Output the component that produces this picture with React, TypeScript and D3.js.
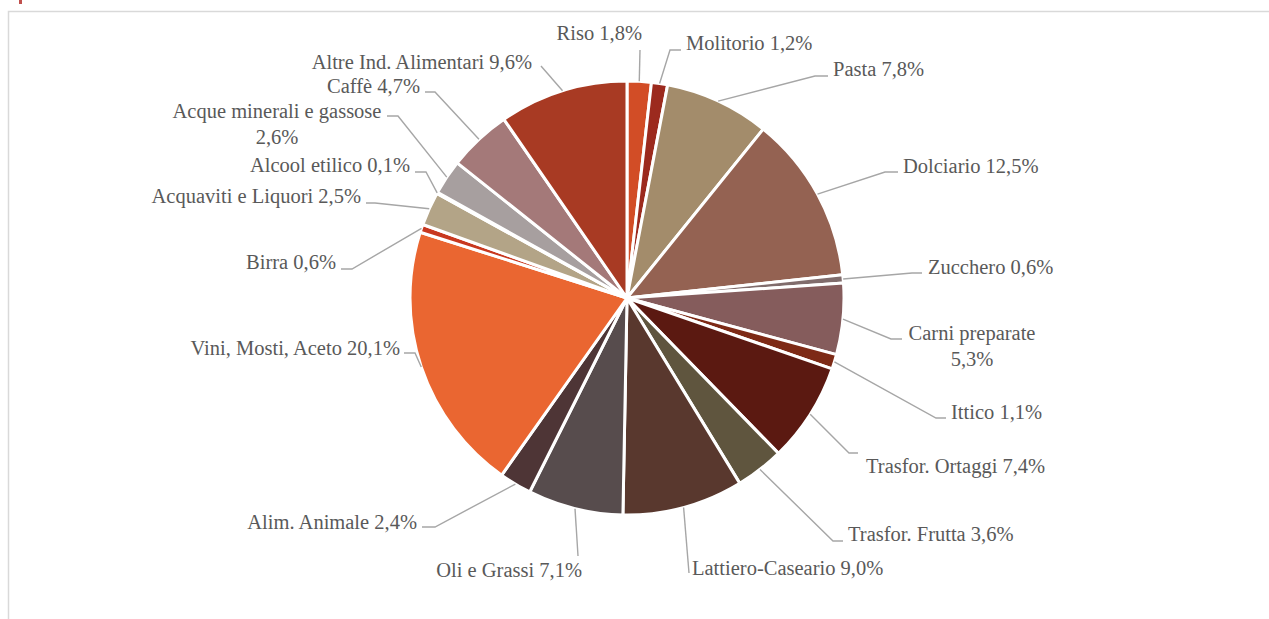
import React from 'react';
import * as d3 from 'd3';

// Quota per comparto dell'industria alimentare (%)
const sectors = [
  'Riso', 'Molitorio', 'Pasta', 'Dolciario', 'Zucchero', 'Carni preparate', 'Ittico',
  'Trasfor. Ortaggi', 'Trasfor. Frutta', 'Lattiero-Caseario', 'Oli e Grassi', 'Alim. Animale',
  'Vini, Mosti, Aceto', 'Birra', 'Acquaviti e Liquori', 'Alcool etilico',
  'Acque minerali e gassose', 'Caffè', 'Altre Ind. Alimentari',
];
const shares = [1.8, 1.2, 7.8, 12.5, 0.6, 5.3, 1.1, 7.4, 3.6, 9.0, 7.1, 2.4, 20.1, 0.6, 2.5, 0.1, 2.6, 4.7, 9.6];
const colors = [
  '#d24d26', '#9c2a1e', '#a38c6b', '#946252', '#806c6c', '#855c5c', '#7d2a16',
  '#5b1911', '#5f553e', '#59382e', '#574c4d', '#4e3536',
  '#ea6631', '#c8381f', '#b3a487', '#6e5a4f', '#a79f9f', '#a47979', '#a83a23',
];
// labels whose percentage goes on a second row
const twoRows = ['Carni preparate', 'Acque minerali e gassose'];

// label placement: text x, baseline y, anchor, leader end x/y, elbow offset
type Spot = [number, number, 'start' | 'middle' | 'end', number, number, number];
const spots: Spot[] = [
  [642, 40, 'end', 640, 50, 0],
  [686, 50, 'start', 681, 50, -11],
  [833, 76, 'start', 828, 76, -13],
  [903, 173, 'start', 898, 172, -13],
  [928, 274, 'start', 922, 273, -10],
  [972, 340, 'middle', 902, 339, -11],
  [951, 419, 'start', 946, 418, -10],
  [866, 473, 'start', 858, 453, -9],
  [848, 541, 'start', 843, 541, -10],
  [692, 575, 'start', 689, 573, 0],
  [582, 577, 'end', 578, 556, 0],
  [417, 529, 'end', 422, 527, 13],
  [400, 355, 'end', 404, 353, 11],
  [336, 269, 'end', 341, 269, 11],
  [361, 203, 'end', 366, 203, 9],
  [410, 172, 'end', 415, 172, 11],
  [277, 118, 'middle', 387, 116, 11],
  [420, 93, 'end', 425, 92, 10],
  [532, 69, 'end', 541, 66, 0],
];

const W = 1269;
const H = 619;
const cx = 627;
const cy = 298;
const R = 217;

const fmt = (v: number) => v.toFixed(1).replace('.', ',') + '%';

export default function App() {
  const pie = d3.pie<number>().sort(null).value((d) => d);
  const arcs = pie(shares);
  const arc = d3.arc<d3.PieArcDatum<number>>().innerRadius(0).outerRadius(R);
  const edge = d3.arc<d3.PieArcDatum<number>>().innerRadius(R).outerRadius(R);

  return (
    <svg
      width={W}
      height={H}
      style={{ position: 'absolute', left: 0, top: 0, background: '#fff', fontFamily: '"Liberation Serif", "Times New Roman", serif' }}
    >
      <rect x={19} y={0} width={3} height={4} fill="#c0504d" />
      <rect x={8.5} y={11.5} width={W + 20} height={H + 20} fill="none" stroke="#d9d9d9" strokeWidth={1.5} />
      <g transform={`translate(${cx},${cy})`}>
        {arcs.map((a, i) => (
          <path key={i} d={arc(a) || ''} fill={colors[i]} stroke="#fff" strokeWidth={3} strokeLinejoin="round" />
        ))}
      </g>
      {arcs.map((a, i) => {
        const [px, py] = edge.centroid(a);
        const [tx, ty, anchor, ex, ey, dx] = spots[i];
        const pts: [number, number][] = [[cx + px, cy + py]];
        if (dx !== 0) pts.push([ex + dx, ey]);
        pts.push([ex, ey]);
        const name = sectors[i];
        const rows = twoRows.includes(name) ? [name, fmt(shares[i])] : [`${name} ${fmt(shares[i])}`];
        return (
          <g key={i}>
            <path d={d3.line()(pts) || ''} fill="none" stroke="#a6a6a6" strokeWidth={1.4} />
            <text x={tx} y={ty} textAnchor={anchor} fontSize={20.5} fill="#595959">
              {rows.map((r, k) => (
                <tspan key={k} x={tx} dy={k === 0 ? 0 : 26}>{r}</tspan>
              ))}
            </text>
          </g>
        );
      })}
    </svg>
  );
}
